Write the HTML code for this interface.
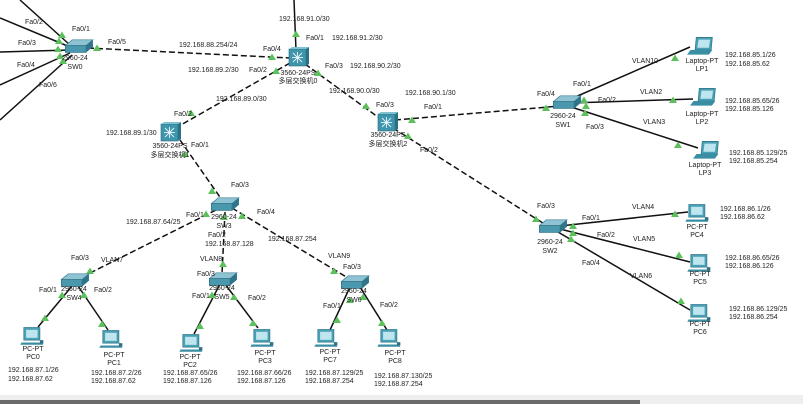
<!DOCTYPE html>
<html><head><meta charset="utf-8"><style>
html,body{margin:0;padding:0;background:#fff;}
svg{display:block}
text{font-family:"Liberation Sans","Noto Sans CJK SC",sans-serif;font-size:7px;fill:#222}
</style></head><body>
<svg width="803" height="404" viewBox="0 0 803 404" xmlns="http://www.w3.org/2000/svg">
<defs>
<g id="sw0"><path d="M-11,-3 L-5,-8 L13,-8 L7,-3 Z" fill="#8ec3d3" stroke="#3a7f93" stroke-width="0.6"/><path d="M-11,-3 L7,-3 L7,3 L-11,3 Z" fill="#4a98ad" stroke="#2f6d80" stroke-width="0.6"/><path d="M7,-3 L13,-8 L13,-2 L7,3 Z" fill="#2f7488"/></g>
<g id="sw"><use href="#sw0" transform="scale(1.15)"/></g>
<g id="mls"><rect x="-9" y="-9" width="17" height="17" fill="#3f95ab" stroke="#2b6c80" stroke-width="0.6"/><path d="M8,-9 L11,-11 L11,6 L8,8 Z" fill="#2a7186"/><path d="M-9,-9 L-6,-11 L11,-11 L8,-9Z" fill="#7fc0d1"/><g stroke="#e8f6fa" stroke-width="0.9"><line x1="-6" y1="-0.5" x2="5" y2="-0.5"/><line x1="-0.5" y1="-6" x2="-0.5" y2="5"/><line x1="-5" y1="-5" x2="4" y2="4"/><line x1="4" y1="-5" x2="-5" y2="4"/></g></g>
<g id="pc0"><rect x="-8" y="-10" width="14" height="11" fill="#4aa1b5" stroke="#2d7386" stroke-width="0.6"/><rect x="-6" y="-8" width="10" height="7" fill="#bfe6ee"/><path d="M-10,3 L8,3 L9,5 L-11,5Z" fill="#3a8ea3"/><rect x="6" y="1" width="3" height="3" fill="#2d7386"/></g>
<g id="pc"><use href="#pc0" transform="scale(1.15)"/></g>
<g id="lp0"><path d="M-5,-11 L9,-11 L8,0 L-6,0Z" fill="#4aa1b5" stroke="#2d7386" stroke-width="0.6"/><path d="M-3,-9 L7,-9 L6,-2 L-4,-2Z" fill="#bfe6ee"/><path d="M-10,0 L9,0 L6,4 L-13,4Z" fill="#3a8ea3"/></g>
<g id="lp"><use href="#lp0" transform="scale(1.15)"/></g>
<path id="tri" d="M0,-3.5 L4,3 L-4,3Z" fill="#5cc05c"/>
</defs>

<g stroke="#111" stroke-width="1.5" fill="none">
<line x1="70" y1="45" x2="20" y2="0"/>
<line x1="70" y1="47" x2="0" y2="18"/>
<line x1="70" y1="50" x2="0" y2="52"/>
<line x1="70" y1="53" x2="0" y2="85"/>
<line x1="72" y1="55" x2="0" y2="120"/>
<line x1="294" y1="0" x2="296" y2="50"/>
<g stroke-dasharray="6,3">
<line x1="88" y1="48" x2="290" y2="58"/>
<line x1="290" y1="63" x2="172" y2="130"/>
<line x1="305" y1="64" x2="382" y2="120"/>
<line x1="395" y1="120" x2="560" y2="106"/>
<line x1="393" y1="128" x2="546" y2="225"/>
<line x1="180" y1="140" x2="222" y2="200"/>
<line x1="216" y1="210" x2="88" y2="274"/>
<line x1="225" y1="212" x2="222" y2="274"/>
<line x1="232" y1="208" x2="348" y2="278"/>
</g>
<line x1="566" y1="101" x2="690" y2="47"/>
<line x1="570" y1="103" x2="693" y2="99"/>
<line x1="568" y1="106" x2="698" y2="148"/>
<line x1="560" y1="226" x2="688" y2="212"/>
<line x1="560" y1="229" x2="690" y2="262"/>
<line x1="558" y1="232" x2="690" y2="310"/>
<line x1="72" y1="286" x2="38" y2="327"/>
<line x1="78" y1="286" x2="108" y2="330"/>
<line x1="220" y1="284" x2="194" y2="334"/>
<line x1="225" y1="284" x2="258" y2="328"/>
<line x1="350" y1="287" x2="330" y2="330"/>
<line x1="360" y1="287" x2="387" y2="330"/>
</g>

<g>
<use href="#tri" x="62" y="35"/><use href="#tri" x="59" y="41"/><use href="#tri" x="58" y="49"/><use href="#tri" x="60" y="56"/><use href="#tri" x="63" y="61"/><use href="#tri" x="97" y="48"/>
<use href="#tri" x="272" y="57"/><use href="#tri" x="276" y="71"/><use href="#tri" x="296" y="34"/><use href="#tri" x="318" y="73"/>
<use href="#tri" x="191" y="113"/><use href="#tri" x="185" y="154"/>
<use href="#tri" x="366" y="106"/><use href="#tri" x="412" y="120"/><use href="#tri" x="408" y="136"/>
<use href="#tri" x="546" y="108"/><use href="#tri" x="584" y="100"/><use href="#tri" x="586" y="106"/><use href="#tri" x="585" y="113"/>
<use href="#tri" x="675" y="58"/><use href="#tri" x="673" y="100"/><use href="#tri" x="678" y="145"/>
<use href="#tri" x="536" y="219"/><use href="#tri" x="573" y="226"/><use href="#tri" x="573" y="233"/><use href="#tri" x="571" y="239"/>
<use href="#tri" x="675" y="214"/><use href="#tri" x="679" y="255"/><use href="#tri" x="681" y="301"/>
<use href="#tri" x="212" y="191"/><use href="#tri" x="206" y="214"/><use href="#tri" x="224" y="217"/><use href="#tri" x="242" y="216"/>
<use href="#tri" x="90" y="271"/><use href="#tri" x="62" y="295"/><use href="#tri" x="84" y="295"/><use href="#tri" x="45" y="318"/><use href="#tri" x="102" y="324"/>
<use href="#tri" x="223" y="264"/><use href="#tri" x="212" y="295"/><use href="#tri" x="234" y="297"/><use href="#tri" x="200" y="326"/><use href="#tri" x="253" y="323"/>
<use href="#tri" x="334" y="271"/><use href="#tri" x="350" y="300"/><use href="#tri" x="363" y="297"/><use href="#tri" x="337" y="320"/><use href="#tri" x="382" y="323"/>
</g>

<use href="#sw" x="78" y="49"/><use href="#sw" x="566" y="105"/><use href="#sw" x="552" y="229"/>
<use href="#sw" x="224" y="207"/><use href="#sw" x="74" y="283"/><use href="#sw" x="222" y="282"/><use href="#sw" x="354" y="285"/>
<use href="#mls" x="298" y="58"/><use href="#mls" x="170" y="133"/><use href="#mls" x="387" y="123"/>
<use href="#lp" x="702" y="50"/><use href="#lp" x="705" y="101"/><use href="#lp" x="708" y="154"/>
<use href="#pc" x="698" y="216"/><use href="#pc" x="700" y="266"/><use href="#pc" x="700" y="316"/>
<use href="#pc" x="33" y="339"/><use href="#pc" x="112" y="342"/><use href="#pc" x="192" y="346"/><use href="#pc" x="263" y="341"/><use href="#pc" x="327" y="341"/><use href="#pc" x="390" y="341"/>

<g text-anchor="middle">
<text x="75" y="60">2960-24</text><text x="75" y="69">SW0</text>
<text x="298" y="75">3560-24PS</text><text x="298" y="83">多层交换机0</text>
<text x="170" y="148">3560-24PS</text><text x="170" y="157">多层交换机1</text>
<text x="388" y="137">3560-24PS</text><text x="388" y="146">多层交换机2</text>
<text x="563" y="118">2960-24</text><text x="563" y="127">SW1</text>
<text x="550" y="244">2960-24</text><text x="550" y="253">SW2</text>
<text x="224" y="219">2960-24</text><text x="224" y="228">SW3</text>
<text x="74" y="291">2960-24</text><text x="74" y="300">SW4</text>
<text x="222" y="290">2960-24</text><text x="222" y="299">SW5</text>
<text x="354" y="293">2960-24</text><text x="354" y="302">SW6</text>
<text x="702" y="63">Laptop-PT</text><text x="702" y="71">LP1</text>
<text x="702" y="116">Laptop-PT</text><text x="702" y="124">LP2</text>
<text x="705" y="167">Laptop-PT</text><text x="705" y="175">LP3</text>
<text x="697" y="229">PC-PT</text><text x="697" y="237">PC4</text>
<text x="700" y="276">PC-PT</text><text x="700" y="284">PC5</text>
<text x="700" y="326">PC-PT</text><text x="700" y="334">PC6</text>
<text x="33" y="351">PC-PT</text><text x="33" y="359">PC0</text>
<text x="114" y="357">PC-PT</text><text x="114" y="365">PC1</text>
<text x="190" y="359">PC-PT</text><text x="190" y="367">PC2</text>
<text x="265" y="355">PC-PT</text><text x="265" y="363">PC3</text>
<text x="330" y="354">PC-PT</text><text x="330" y="362">PC7</text>
<text x="395" y="355">PC-PT</text><text x="395" y="363">PC8</text>
</g>

<g>
<text x="25" y="24">Fa0/2</text><text x="72" y="31">Fa0/1</text><text x="18" y="45">Fa0/3</text><text x="17" y="67">Fa0/4</text><text x="39" y="87">Fa0/6</text><text x="108" y="44">Fa0/5</text>
<text x="179" y="47">192.168.88.254/24</text><text x="263" y="51">Fa0/4</text><text x="188" y="72">192.168.89.2/30</text><text x="249" y="72">Fa0/2</text>
<text x="279" y="21">192.168.91.0/30</text><text x="306" y="40">Fa0/1</text><text x="332" y="40">192.168.91.2/30</text>
<text x="325" y="68">Fa0/3</text><text x="350" y="68">192.168.90.2/30</text><text x="329" y="93">192.168.90.0/30</text>
<text x="216" y="101">192.168.89.0/30</text><text x="174" y="116">Fa0/2</text><text x="106" y="135">192.168.89.1/30</text><text x="191" y="147">Fa0/1</text>
<text x="376" y="107">Fa0/3</text><text x="405" y="95">192.168.90.1/30</text><text x="424" y="109">Fa0/1</text><text x="420" y="152">Fa0/2</text>
<text x="537" y="96">Fa0/4</text><text x="573" y="86">Fa0/1</text><text x="598" y="102">Fa0/2</text><text x="586" y="129">Fa0/3</text>
<text x="632" y="63">VLAN10</text><text x="640" y="94">VLAN2</text><text x="643" y="124">VLAN3</text>
<text x="725" y="57">192.168.85.1/26</text><text x="725" y="66">192.168.85.62</text>
<text x="725" y="103">192.168.85.65/26</text><text x="725" y="111">192.168.85.126</text>
<text x="729" y="155">192.168.85.129/25</text><text x="729" y="163">192.168.85.254</text>
<text x="537" y="208">Fa0/3</text><text x="582" y="220">Fa0/1</text><text x="597" y="237">Fa0/2</text><text x="582" y="265">Fa0/4</text>
<text x="632" y="209">VLAN4</text><text x="633" y="241">VLAN5</text><text x="630" y="278">VLAN6</text>
<text x="720" y="211">192.168.86.1/26</text><text x="720" y="219">192.168.86.62</text>
<text x="725" y="260">192.168.86.65/26</text><text x="725" y="268">192.168.86.126</text>
<text x="729" y="311">192.168.86.129/25</text><text x="729" y="319">192.168.86.254</text>
<text x="231" y="187">Fa0/3</text><text x="186" y="217">Fa0/1</text><text x="257" y="214">Fa0/4</text><text x="126" y="224">192.168.87.64/25</text>
<text x="208" y="237">Fa0/2</text><text x="205" y="246">192.168.87.128</text><text x="268" y="241">192.168.87.254</text>
<text x="71" y="260">Fa0/3</text><text x="101" y="262">VLAN7</text><text x="200" y="261">VLAN8</text><text x="197" y="276">Fa0/3</text><text x="328" y="258">VLAN9</text><text x="343" y="269">Fa0/3</text>
<text x="39" y="292">Fa0/1</text><text x="94" y="292">Fa0/2</text><text x="192" y="298">Fa0/1</text><text x="248" y="300">Fa0/2</text><text x="323" y="308">Fa0/1</text><text x="380" y="307">Fa0/2</text>
<text x="8" y="372">192.168.87.1/26</text><text x="8" y="381">192.168.87.62</text>
<text x="91" y="375">192.168.87.2/26</text><text x="91" y="383">192.168.87.62</text>
<text x="163" y="375">192.168.87.65/26</text><text x="163" y="383">192.168.87.126</text>
<text x="237" y="375">192.168.87.66/26</text><text x="237" y="383">192.168.87.126</text>
<text x="305" y="375">192.168.87.129/25</text><text x="305" y="383">192.168.87.254</text>
<text x="374" y="378">192.168.87.130/25</text><text x="374" y="386">192.168.87.254</text>
</g>

<rect x="0" y="395" width="803" height="9" fill="#eeeeee"/>
<rect x="0" y="400" width="640" height="4" fill="#6a6a6a"/>
</svg>
</body></html>
